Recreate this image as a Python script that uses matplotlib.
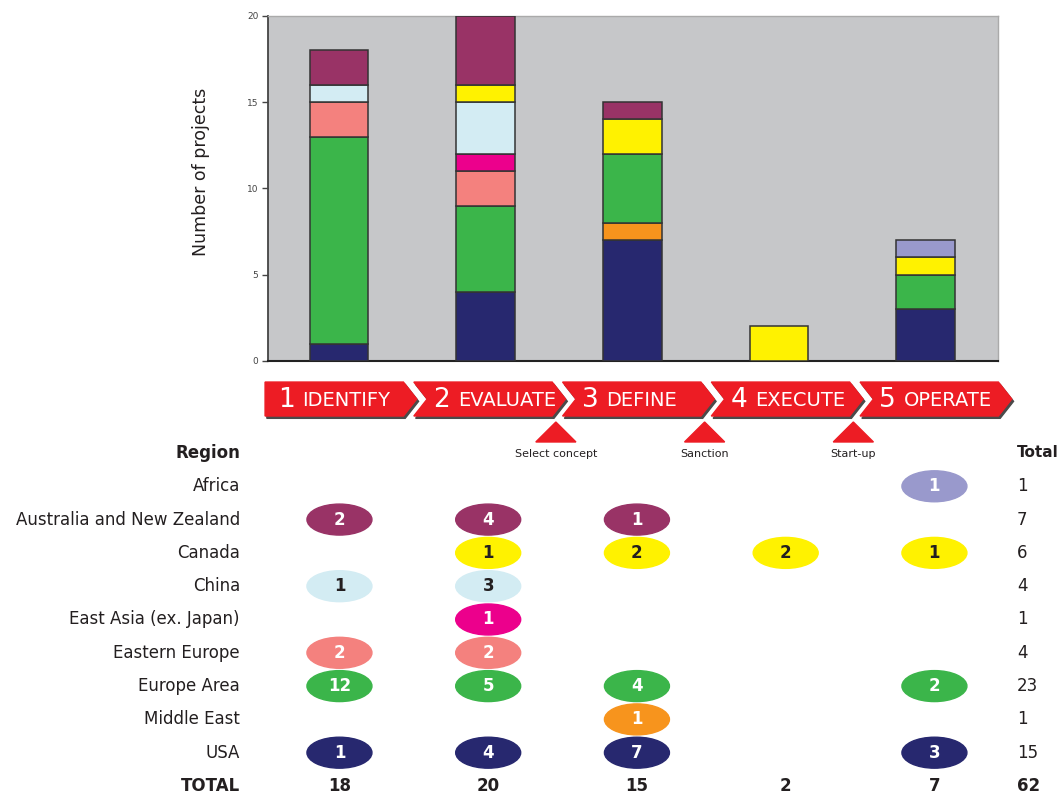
import matplotlib

matplotlib.use("Agg")
import matplotlib.pyplot as plt
import numpy as np
from matplotlib.patches import Ellipse, Polygon

stages = ["IDENTIFY", "EVALUATE", "DEFINE", "EXECUTE", "OPERATE"]
gates = ["Select concept", "Sanction", "Start-up"]
regions = ["Africa", "Australia and New Zealand", "Canada", "China",
           "East Asia (ex. Japan)", "Eastern Europe", "Europe Area",
           "Middle East", "USA"]
colors = ["#9999cc", "#993366", "#fff200", "#d3ecf3", "#ec008c",
          "#f4817e", "#3bb54a", "#f7941d", "#27286f"]
# which ellipse numbers are printed dark instead of white
dark_text = [False, False, True, True, False, False, False, False, False]

# projects per stage (identify, evaluate, define, execute, operate)
africa = [0, 0, 0, 0, 1]
australia_nz = [2, 4, 1, 0, 0]
canada = [0, 1, 2, 2, 1]
china = [1, 3, 0, 0, 0]
east_asia = [0, 1, 0, 0, 0]
eastern_europe = [2, 2, 0, 0, 0]
europe_area = [12, 5, 4, 0, 2]
middle_east = [0, 0, 1, 0, 0]
usa = [1, 4, 7, 0, 3]
counts = [africa, australia_nz, canada, china, east_asia, eastern_europe,
          europe_area, middle_east, usa]

RED = "#ed1c24"
INK = "#231f20"

fig = plt.figure(figsize=(10.62, 7.97), dpi=100)

# --- stacked bars (USA at the bottom, Africa on top)
ax = fig.add_axes([0.2524, 0.5471, 0.6874, 0.4332])
x = np.arange(len(stages))
bottom = np.zeros(len(stages))
for col, vals in reversed(list(zip(colors, counts))):
    v = np.array(vals, dtype=float)
    m = v > 0
    ax.bar(x[m], v[m], 0.40, bottom=bottom[m], color=col,
           edgecolor="#333333", linewidth=1.1, zorder=3)
    bottom += v
ax.set_facecolor("#c6c7c9")
ax.set_xlim(-0.484, 4.495)
ax.set_ylim(0, 20)
ax.set_xticks([])
ax.set_yticks([0, 5, 10, 15, 20])
ax.tick_params(axis="y", labelsize=6.5, length=4, width=1,
               color="#444444", labelcolor="#444444", pad=3)
ax.set_ylabel("Number of projects", fontsize=12.5, color=INK)
ax.yaxis.set_label_coords(-0.079, 0.547)
ax.spines["left"].set_color("#444444")
ax.spines["left"].set_linewidth(1.3)
ax.spines["bottom"].set_color("#222222")
ax.spines["bottom"].set_linewidth(1.5)
for s in ("top", "right"):
    ax.spines[s].set_color("#aaaaaa")
    ax.spines[s].set_linewidth(1)

# --- stage chevrons, gates and the region table share one grid
tb = fig.add_axes([0.2496, -0.00709, 0.7003, 0.5432])
tb.set_xlim(-0.5, 4.5)
tb.set_ylim(10.5, -2.5)
tb.axis("off")

top, mid, bot = -2.13, -1.62, -1.11
for i, name in enumerate(stages):
    L = i - 0.5
    pts = [(L, top), (L + 0.93, top), (L + 1.02, mid), (L + 0.93, bot), (L, bot)]
    if i > 0:
        pts.append((L + 0.09, mid))
    shadow = [(px + 0.012, py + 0.07) for px, py in pts]
    tb.add_patch(Polygon(shadow, closed=True, color="#4a4a4a", clip_on=False))
    tb.add_patch(Polygon(pts, closed=True, color=RED, clip_on=False))
    nx = L + 0.085 + (0.045 if i > 0 else 0)
    tb.text(nx, mid + 0.03, str(i + 1), color="white", fontsize=19,
            ha="left", va="center")
    tb.text(nx + 0.165, mid + 0.03, name, color="white", fontsize=14,
            ha="left", va="center")

for k, g in enumerate(gates):
    gx = k + 1.5 - 0.045
    tb.add_patch(Polygon([(gx, -0.93), (gx + 0.135, -0.33), (gx - 0.135, -0.33)],
                         closed=True, color=RED, clip_on=False))
    tb.text(gx, 0.02, g, fontsize=8, color=INK, ha="center", va="center")

lab_x, tot_x = -0.669, 4.555
tb.text(lab_x, 0, "Region", fontsize=12, fontweight="bold", color=INK,
        ha="right", va="center")
tb.text(tot_x, 0, "Total", fontsize=11, fontweight="bold", color=INK,
        ha="left", va="center")
for r, (name, col, vals, dk) in enumerate(zip(regions, colors, counts, dark_text), 1):
    tb.text(lab_x, r, name, fontsize=12, color=INK, ha="right", va="center")
    for i, v in enumerate(vals):
        if v == 0:
            continue
        tb.add_patch(Ellipse((i, r), 0.437, 0.93, color=col))
        tb.text(i, r, str(v), fontsize=12, fontweight="bold",
                color=INK if dk else "white", ha="center", va="center")
    tb.text(tot_x, r, str(sum(vals)), fontsize=12, color=INK,
            ha="left", va="center")

r = len(regions) + 1
tb.text(lab_x, r, "TOTAL", fontsize=12, fontweight="bold", color=INK,
        ha="right", va="center")
stage_tot = np.sum(counts, axis=0)
for i, v in enumerate(stage_tot):
    tb.text(i, r, str(v), fontsize=12, fontweight="bold", color=INK,
            ha="center", va="center")
tb.text(tot_x, r, str(stage_tot.sum()), fontsize=12, fontweight="bold",
        color=INK, ha="left", va="center")

fig.savefig("out.png", dpi=100)
